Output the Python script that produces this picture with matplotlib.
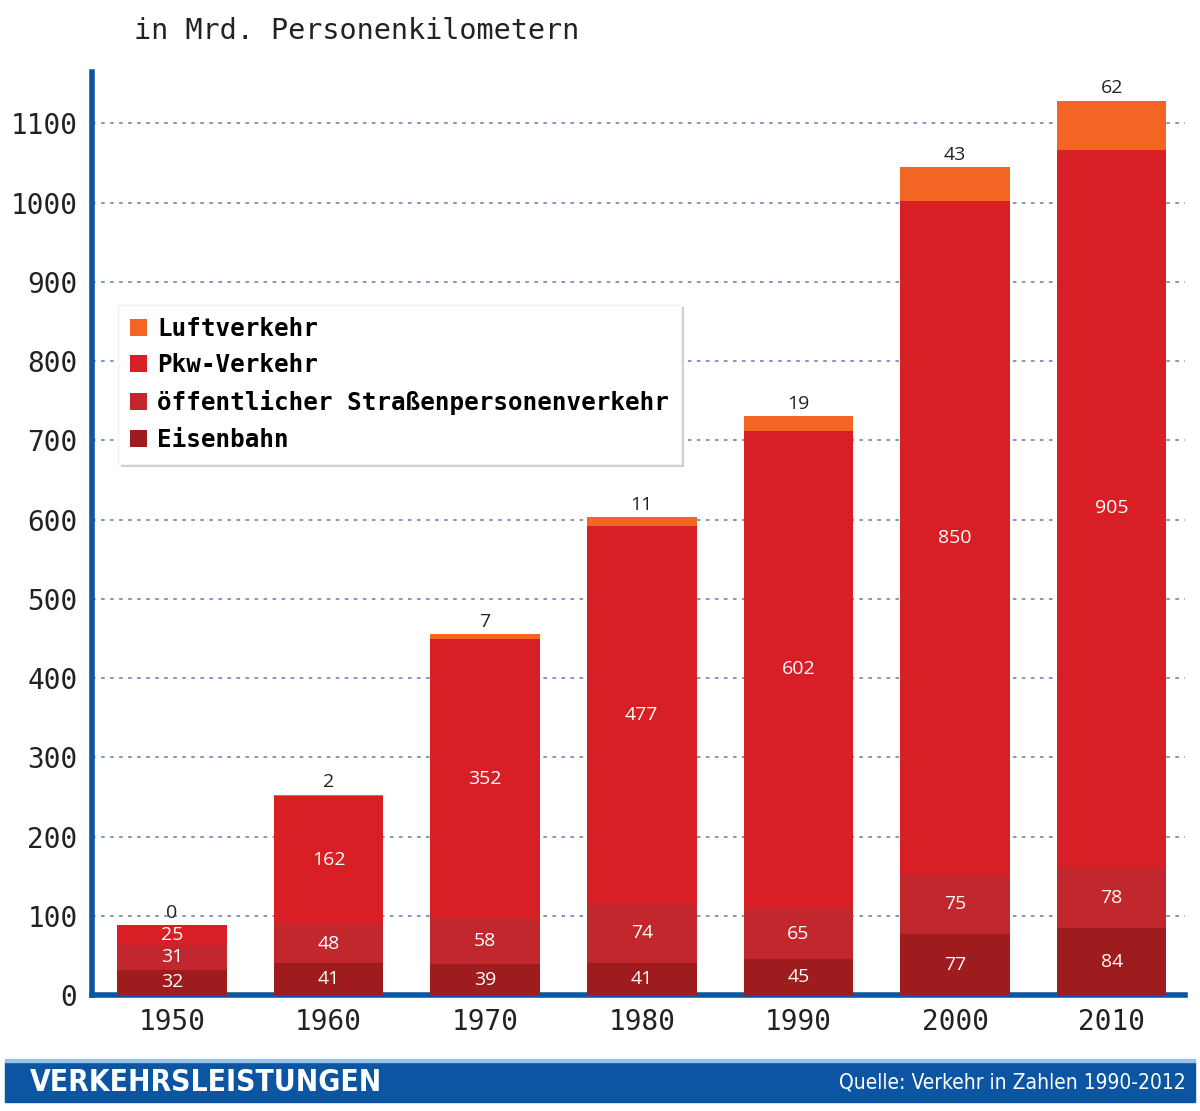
import matplotlib.pyplot as plt
from matplotlib.patches import Rectangle
import numpy as np

# --- Data (Mrd. Personenkilometer) ---
years = ["1950", "1960", "1970", "1980", "1990", "2000", "2010"]
eisenbahn = [32, 41, 39, 41, 45, 77, 84]
oespv = [31, 48, 58, 74, 65, 75, 78]
pkw = [25, 162, 352, 477, 602, 850, 905]
luft = [0, 2, 7, 11, 19, 43, 62]

series = [
    ("Eisenbahn", eisenbahn, "#9E1B1E"),
    ("öffentlicher Straßenpersonenverkehr", oespv, "#C1272D"),
    ("Pkw-Verkehr", pkw, "#D91F26"),
    ("Luftverkehr", luft, "#F26522"),
]

mono = "DejaVu Sans Mono"
blue = "#0B55A3"

fig = plt.figure(figsize=(12, 11.11), dpi=100)
ax = fig.add_axes([0.0767, 0.1044, 0.911, 0.8308])

x = np.arange(len(years))
bottom = np.zeros(len(years))
for name, vals, col in series:
    vals = np.array(vals, dtype=float)
    ax.bar(x, vals, 0.7, bottom=bottom, color=col, label=name, zorder=3)
    if name != "Luftverkehr":
        for xi, b, v in zip(x, bottom, vals):
            ax.text(xi, b + v / 2, f"{int(v)}", ha="center", va="center",
                    color="white", fontsize=14, family="Open Sans", zorder=4)
    else:
        for xi, b, v in zip(x, bottom, vals):
            ax.text(xi, b + v + 4, f"{int(v)}", ha="center", va="bottom",
                    color="#222222", fontsize=14, family="Open Sans", zorder=4)
    bottom += vals

ax.set_xlim(-0.51, 6.47)
ax.set_ylim(0, 1165)
ax.set_yticks(range(0, 1101, 100))
ax.set_xticks(x)
ax.set_xticklabels(years)
ax.tick_params(length=0, labelsize=20, pad=9)
for lab in ax.get_xticklabels() + ax.get_yticklabels():
    lab.set_family(mono)
    lab.set_color("#222222")
ax.tick_params(axis="y", pad=10.5)

ax.yaxis.grid(True, linestyle=(0, (2, 3)), color="#7C8CC4", linewidth=1.3, zorder=0)
for sp in ["top", "right"]:
    ax.spines[sp].set_visible(False)
for sp in ["left", "bottom"]:
    ax.spines[sp].set_color(blue)
    ax.spines[sp].set_linewidth(4)

# legend (top series first)
handles, labels = ax.get_legend_handles_labels()
leg = ax.legend(handles[::-1], labels[::-1], loc="upper left",
                bbox_to_anchor=(0.024, 0.748), borderaxespad=0,
                prop={"family": mono, "weight": "bold", "size": 17.5},
                handlelength=0.7, handleheight=0.7, handletextpad=0.4,
                labelspacing=0.52, borderpad=0.5, fancybox=False,
                shadow={"color": "#b8b8b8", "alpha": 0.7, "linewidth": 0},
                framealpha=1, facecolor="white", edgecolor="#f2f2f2")
leg.set_zorder(5)

fig.text(0.112, 0.972, "in Mrd. Personenkilometern", family=mono, fontsize=20.5,
         color="#222222", ha="left", va="center")

# footer banner
fig.patches.append(Rectangle((0.004, 0.0081), 0.992, 0.036, transform=fig.transFigure,
                             color=blue, zorder=0))
fig.patches.append(Rectangle((0.004, 0.0441), 0.992, 0.003, transform=fig.transFigure,
                             color="#9CC3E6", zorder=0))
fig.text(0.025, 0.026, "VERKEHRSLEISTUNGEN", color="white", fontsize=21.5,
         weight="bold", family="DejaVu Sans", fontstretch="condensed",
         ha="left", va="center")
fig.text(0.988, 0.026, "Quelle: Verkehr in Zahlen 1990-2012", color="white",
         fontsize=15, family="DejaVu Sans", fontstretch="condensed",
         ha="right", va="center")

fig.savefig("out.png", dpi=100)
